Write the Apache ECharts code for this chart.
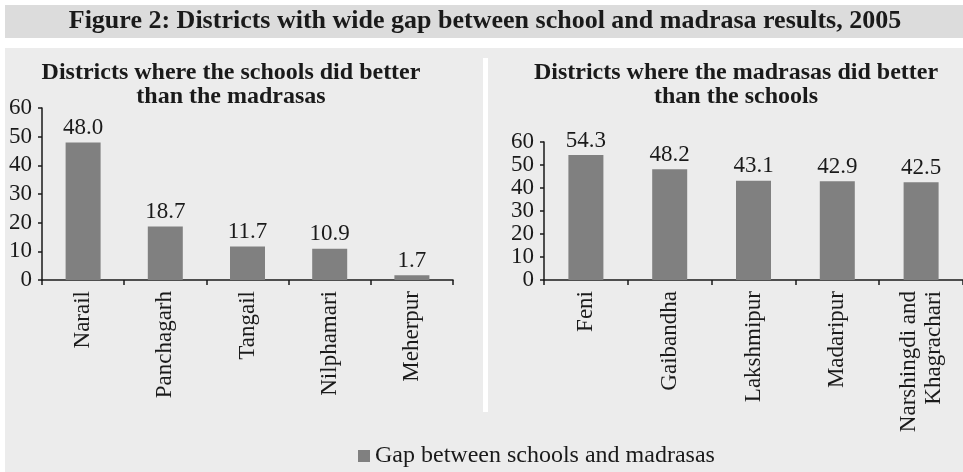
<!DOCTYPE html>
<html>
<head>
<meta charset="utf-8">
<script src="https://cdn.jsdelivr.net/npm/echarts@6/dist/echarts.min.js"></script>
<style>
  html, body { margin: 0; padding: 0; background: #fff; }
  #chart { width: 963px; height: 472px; }
</style>
</head>
<body>
<div id="chart"></div>
<script>
// data
const schoolDistricts = ["Narail", "Panchagarh", "Tangail", "Nilphamari", "Meherpur"];
const schoolGap = [48.0, 18.7, 11.7, 10.9, 1.7];

const madrasaDistricts = ["Feni", "Gaibandha", "Lakshmipur", "Madaripur", "Narshingdi and\nKhagrachari"];
const madrasaGap = [54.3, 48.2, 43.1, 42.9, 42.5];

const yTicks = [0, 10, 20, 30, 40, 50, 60];

const seriesName = "Gap between schools and madrasas";
const figTitle = "Figure 2: Districts with wide gap between school and madrasa results, 2005";
const leftTitle = "Districts where the schools did better\nthan the madrasas";
const rightTitle = "Districts where the madrasas did better\nthan the schools";

const serif = "'Liberation Serif', 'Times New Roman', serif";
const ink = "#1a1a1a";
const barColor = "#808080";

const chart = echarts.init(document.getElementById("chart"), null, { renderer: "canvas" });

function xAxis(gridIndex, cats) {
  return {
    type: "category",
    gridIndex,
    data: cats,
    axisLine: { lineStyle: { color: ink, width: 1.5 } },
    axisTick: { show: true, length: 5, lineStyle: { color: ink, width: 1.5 } },
    axisLabel: {
      rotate: 90, margin: 11, color: ink,
      fontFamily: serif, fontSize: 23, lineHeight: 25, interval: 0
    }
  };
}

function yAxis(gridIndex) {
  return {
    type: "value",
    gridIndex,
    min: yTicks[0],
    max: yTicks[yTicks.length - 1],
    interval: 10,
    splitLine: { show: false },
    axisLine: { show: true, lineStyle: { color: ink, width: 1.5 } },
    axisTick: { show: true, length: 4, lineStyle: { color: ink, width: 1.5 } },
    axisLabel: { color: ink, fontFamily: serif, fontSize: 23, margin: 10 }
  };
}

function barSeries(idx, values) {
  return {
    name: seriesName,
    type: "bar",
    xAxisIndex: idx,
    yAxisIndex: idx,
    data: values,
    barWidth: 35,
    itemStyle: { color: barColor },
    label: {
      show: true, position: "top", distance: 3,
      color: ink, fontFamily: serif, fontSize: 23,
      formatter: p => p.value.toFixed(1)
    }
  };
}

chart.setOption({
  animation: false,
  backgroundColor: "#ffffff",
  textStyle: { fontFamily: serif },
  graphic: [
    { type: "rect", z: -10, shape: { x: 5, y: 5, width: 958, height: 33 }, style: { fill: "#dcdcdc" } },
    { type: "rect", z: -10, shape: { x: 5, y: 48, width: 958, height: 424 }, style: { fill: "#ececec" } },
    { type: "rect", z: -9, shape: { x: 483, y: 58, width: 5, height: 354 }, style: { fill: "#ffffff" } },
    {
      type: "text", x: 485, y: 21,
      style: {
        text: figTitle, fill: ink, font: "bold 26px " + serif,
        textAlign: "center", textVerticalAlign: "middle"
      }
    },
    {
      type: "text", x: 231, y: 61,
      style: {
        text: leftTitle, fill: ink, font: "bold 24px " + serif,
        textAlign: "center", lineHeight: 24
      }
    },
    {
      type: "text", x: 736, y: 61,
      style: {
        text: rightTitle, fill: ink, font: "bold 24px " + serif,
        textAlign: "center", lineHeight: 24
      }
    }
  ],
  legend: {
    data: [seriesName],
    left: 353, top: 439,
    icon: "rect", itemWidth: 12, itemHeight: 12, itemGap: 12,
    textStyle: { color: ink, fontFamily: serif, fontSize: 24 }
  },
  grid: [
    { left: 42, top: 108, width: 411, height: 172 },
    { left: 544, top: 142, width: 419, height: 138 }
  ],
  xAxis: [xAxis(0, schoolDistricts), xAxis(1, madrasaDistricts)],
  yAxis: [yAxis(0), yAxis(1)],
  series: [barSeries(0, schoolGap), barSeries(1, madrasaGap)]
});
</script>
</body>
</html>
